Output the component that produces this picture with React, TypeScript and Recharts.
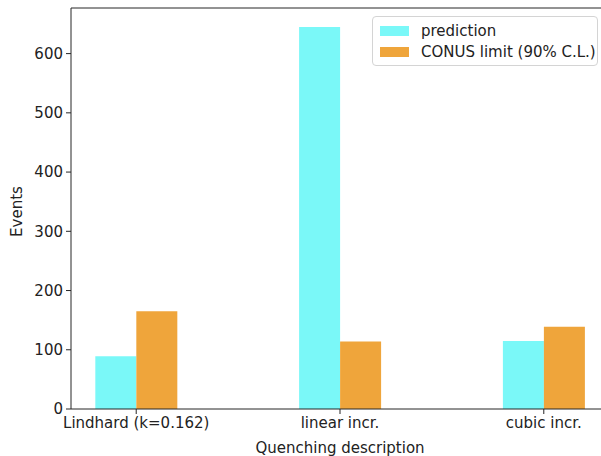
import React from 'react';
import { BarChart, Bar, XAxis, YAxis, ReferenceLine, Legend, Label } from 'recharts';

const categories = ['Lindhard (k=0.162)', 'linear incr.', 'cubic incr.'];
const prediction = [89, 645, 115];
const conusLimit = [165, 114, 139];
const yTicks = [0, 100, 200, 300, 400, 500, 600];

const data = categories.map((name, i) => ({
  x: i,
  name,
  prediction: prediction[i],
  conus: conusLimit[i],
}));

const FONT = '"DejaVu Sans", sans-serif';
const FS = 15;
const CYAN = '#7af8f8';
const ORANGE = '#efa53b';
const AXIS = '#262626';

const LegendBox = () => (
  <div
    style={{
      width: 226,
      height: 50,
      border: '1px solid #d4d4d4',
      borderRadius: 4,
      background: '#fff',
      fontFamily: FONT,
      fontSize: FS,
      color: '#222',
      boxSizing: 'border-box',
      padding: '3px 0 0 7px',
    }}
  >
    {[
      { label: 'prediction', color: CYAN },
      { label: 'CONUS limit (90% C.L.)', color: ORANGE },
    ].map((it) => (
      <div key={it.label} style={{ display: 'flex', alignItems: 'center', height: 21, whiteSpace: 'nowrap' }}>
        <span style={{ width: 29, height: 10, background: it.color, marginRight: 12, flex: 'none' }} />
        <span>{it.label}</span>
      </div>
    ))}
  </div>
);

export default function App() {
  return (
    <div style={{ position: 'absolute', left: 0, top: 0, width: 601, height: 456, overflow: 'hidden', background: '#fff' }}>
      <BarChart
        width={601}
        height={456}
        data={data}
        barGap={0}
        margin={{ top: 8, right: -8, bottom: 0, left: 21 }}
      >
        <XAxis
          dataKey="x"
          type="number"
          domain={[-0.32, 2.32]}
          ticks={[0, 1, 2]}
          tickFormatter={(v: number) => categories[v]}
          allowDecimals
          tickSize={5}
          tickMargin={3}
          stroke={AXIS}
          tick={{ fill: '#222', fontFamily: FONT, fontSize: FS }}
          height={47}
        >
          <Label value="Quenching description" position="insideBottom" offset={3} style={{ fill: '#222', fontFamily: FONT, fontSize: FS }} />
        </XAxis>
        <YAxis
          type="number"
          domain={[0, 677]}
          ticks={yTicks}
          width={50}
          tickSize={5}
          tickMargin={3}
          stroke={AXIS}
          tick={{ fill: '#222', fontFamily: FONT, fontSize: FS }}
        >
          <Label value="Events" angle={-90} position="center" dx={-29} dy={3} style={{ fill: '#222', fontFamily: FONT, fontSize: FS, textAnchor: 'middle' }} />
        </YAxis>
        <ReferenceLine y={677} stroke={AXIS} ifOverflow="extendDomain" />
        <Bar dataKey="prediction" name="prediction" fill={CYAN} barSize={41} isAnimationActive={false} />
        <Bar dataKey="conus" name="CONUS limit (90% C.L.)" fill={ORANGE} barSize={41} isAnimationActive={false} />
        <Legend
          layout="horizontal"
          align="center"
          verticalAlign="middle"
          wrapperStyle={{ top: 16, left: 372, width: 226 }}
          content={() => <LegendBox />}
        />
      </BarChart>
    </div>
  );
}
